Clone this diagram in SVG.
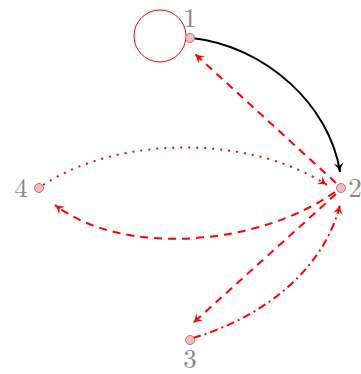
<svg xmlns="http://www.w3.org/2000/svg" width="361" height="374" viewBox="0 0 361 374">
<style>
.node{fill:#ffb8b8;stroke:#888;stroke-width:1}
.lbl{font-family:"Latin Modern Roman","Liberation Serif",serif;font-size:27px;fill:#888;text-anchor:middle}
.e{fill:none;stroke-width:2}
.red{stroke:#ff0000}
</style>
<defs>
<marker id="ab" viewBox="-10 -6 12 12" refX="0" refY="0" markerWidth="12" markerHeight="12" markerUnits="userSpaceOnUse" orient="auto">
<path d="M-9,-5 Q-4,-1 0,0 Q-4,1 -9,5 L-6,0 Z" fill="#000"/>
</marker>
<marker id="ar" viewBox="-10 -6 12 12" refX="0" refY="0" markerWidth="12" markerHeight="12" markerUnits="userSpaceOnUse" orient="auto">
<path d="M-9,-5 Q-4,-1 0,0 Q-4,1 -9,5 L-6,0 Z" fill="#ff0000"/>
</marker>
</defs>
<g id="connectors">
<circle cx="160" cy="36" r="26" fill="none" stroke="#ff0000" stroke-width="1"/>
<path class="e" stroke="#000" d="M192,38 C265,46 330,105 340,172" marker-end="url(#ab)"/>
<path class="e red" stroke-dasharray="8,6" d="M336,183 L195,54" marker-end="url(#ar)"/>
<path class="e red" stroke-dasharray="2,6" d="M43,185 C120,135 250,135 327,185" marker-end="url(#ar)"/>
<path class="e red" stroke-dasharray="8,6" d="M335,192 C260,245 125,258 55,205" marker-end="url(#ar)"/>
<path class="e red" stroke-dasharray="8,6" d="M336,194 L193,323" marker-end="url(#ar)"/>
<path class="e red" stroke-dasharray="8,4,2,4" d="M193,338 C270,315 325,265 340,205" marker-end="url(#ar)"/>
</g>
<g id="n1"><circle class="node" cx="190" cy="38" r="4.5"/><text class="lbl" x="190" y="27">1</text></g>
<g id="n2"><circle class="node" cx="341" cy="188" r="4.5"/><text class="lbl" x="355" y="197">2</text></g>
<g id="n3"><circle class="node" cx="190" cy="340" r="4.5"/><text class="lbl" x="190" y="368">3</text></g>
<g id="n4"><circle class="node" cx="39" cy="188" r="4.5"/><text class="lbl" x="21" y="197">4</text></g>
</svg>
